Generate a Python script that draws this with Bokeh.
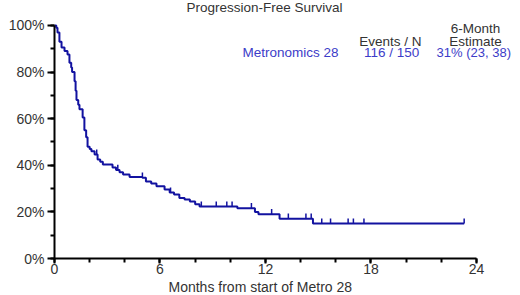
import numpy as np
from bokeh.plotting import figure
from bokeh.models import Range1d, Label, FixedTicker, Title
from bokeh.embed import file_html
from bokeh.resources import INLINE

# Kaplan-Meier step data (months, % progression-free)
times = [0, 0.1, 0.17, 0.28, 0.4, 0.57, 0.74, 0.85, 0.95, 1.0, 1.14, 1.2, 1.25, 1.35, 1.42,
         1.6, 1.7, 1.8, 1.88, 2.0, 2.1, 2.28, 2.45, 2.6, 2.75, 3.3, 3.5, 3.7, 3.9, 4.27,
         5.0, 5.2, 5.5, 5.8, 6.26, 6.55, 6.8, 7.1, 7.4, 7.7, 8.0, 8.25, 10.4, 11.4, 11.6,
         12.8, 14.7]
surv = [100, 99, 97, 93, 90.5, 89, 87.5, 84, 82, 80, 76, 72, 68, 66, 64,
        60.5, 55, 52, 48, 47, 46, 44.6, 42.5, 41.5, 40.3, 39, 38, 37, 36, 35,
        34.7, 33, 32.2, 31, 29.6, 28.3, 27.5, 26, 25.3, 24.5, 23.3, 22.3, 21.6, 20, 19,
        17.1, 15]
censor_times = [2.4, 3.6, 5.0, 6.6, 8.35, 9.2, 9.8, 10.1, 11.2, 12.35, 13.3, 14.3, 14.6,
                15.2, 15.7, 16.7, 17.0, 17.6, 23.3]
last_followup = 23.3

x_ticks = [0, 6, 12, 18, 24]
x_minor = list(range(0, 25, 2))
y_ticks = [0, 20, 40, 60, 80, 100]
y_minor = list(range(0, 101, 10))

title_text = "Progression-Free Survival"
group_name = "Metronomics 28"
events_text = "116 / 150"
estimate_text = "31%  (23, 38)"
x_label = "Months from start of Metro 28"

CURVE = "#1212a0"
TXT_BLUE = "#3c3cc8"
GRAY = "#333333"
FONT = "Liberation Sans"

p = figure(frame_width=464, frame_height=258, min_border_left=54, min_border_top=0,
           min_border_right=0, min_border_bottom=0,
           x_range=Range1d(0, 26.39), y_range=Range1d(0, 110.7),
           output_backend="svg", toolbar_location=None)
p.grid.visible = False
p.outline_line_color = None

# curve
st = list(times) + [last_followup]
sv = list(surv) + [surv[-1]]
p.step(st, sv, mode="after", line_color=CURVE, line_width=2)

# censor marks
tarr = np.array(times)
sarr = np.array(surv)
idx = np.searchsorted(tarr, np.array(censor_times), side="right") - 1
cs = sarr[idx]
p.segment(x0=censor_times, y0=cs, x1=censor_times, y1=cs + 2.2, line_color=CURVE, line_width=1.5)

# axes
for ax in (p.xaxis[0], p.yaxis[0]):
    ax.axis_line_width = 2
    ax.axis_line_color = "black"
    ax.major_tick_line_width = 2
    ax.minor_tick_line_width = 2
    ax.major_tick_line_color = "black"
    ax.minor_tick_line_color = "black"
    ax.major_tick_in = 0
    ax.minor_tick_in = 0
    ax.major_label_text_font = FONT
    ax.major_label_text_color = GRAY

p.xaxis.bounds = (x_ticks[0], x_ticks[-1])
p.yaxis.bounds = (y_ticks[0], y_ticks[-1])

p.xaxis.ticker = FixedTicker(ticks=x_ticks, minor_ticks=x_minor)
p.xaxis.major_tick_out = 5
p.xaxis.minor_tick_out = 4
p.xaxis.major_label_text_font_size = "14px"
p.xaxis.major_label_standoff = 0

p.yaxis.ticker = FixedTicker(ticks=y_ticks, minor_ticks=y_minor)
p.yaxis.major_tick_out = 7
p.yaxis.minor_tick_out = 4
p.yaxis.major_label_text_font_size = "14px"
p.yaxis.major_label_standoff = 3
p.yaxis.major_label_overrides = {v: f"{v}%" for v in y_ticks}

# x axis title, centred under the 0-24 month span
p.add_layout(Title(text=x_label, align="left", offset=114, text_font=FONT,
                   text_font_size="14px", text_font_style="normal", text_color=GRAY,
                   standoff=0), "below")

def lab(x, y, text, color, size="13px", align="center"):
    p.add_layout(Label(x=x, y=y, text=text, text_color=color, text_font=FONT,
                       text_font_size=size, text_align=align, text_baseline="middle"))

lab(11.94, 107.6, title_text, GRAY, "13.5px")
lab(13.42, 88.4, group_name, TXT_BLUE, "13.5px")
lab(19.1, 93.1, "Events / N", GRAY, "13.5px")
lab(19.17, 88.4, events_text, TXT_BLUE, "13.5px")
lab(23.94, 98.7, "6-Month", GRAY, "13.5px")
lab(23.94, 93.1, "Estimate", GRAY, "13.5px")
lab(23.95, 88.4, estimate_text, TXT_BLUE, "13px")

open("out.html", "w").write(file_html(p, INLINE))
